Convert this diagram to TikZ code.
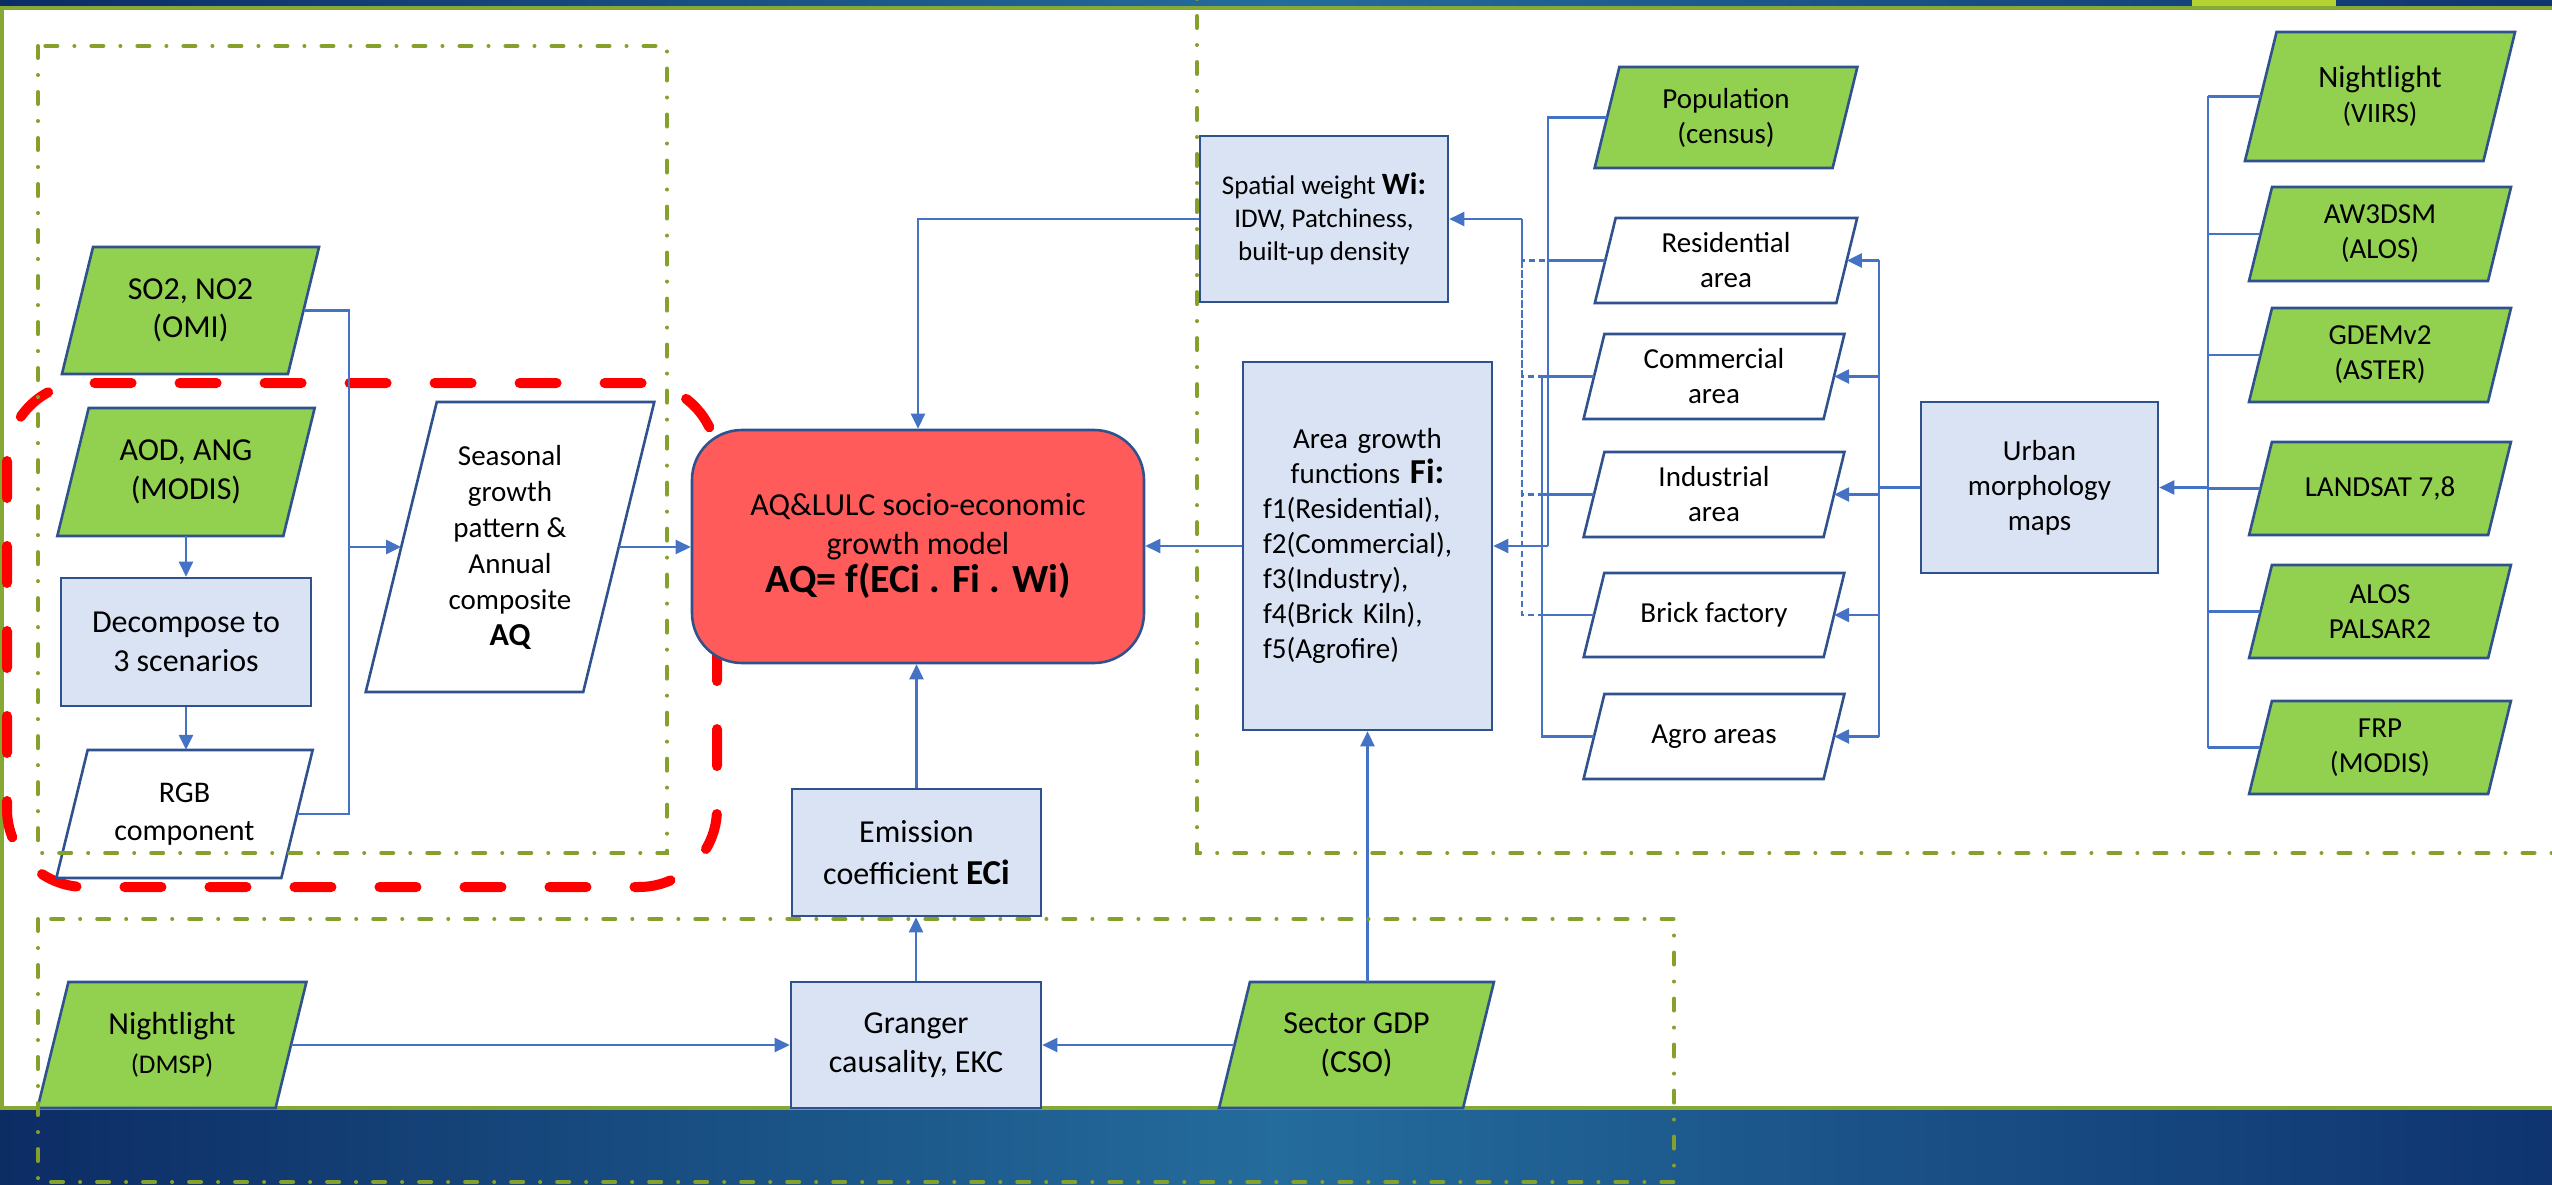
\documentclass[tikz,border=0pt]{standalone}
\usepackage{fontspec}
\setmainfont{Carlito}
\usetikzlibrary{arrows.meta}
\definecolor{bord}{HTML}{2F528F}
\definecolor{lblue}{HTML}{DAE3F3}
\definecolor{gfill}{HTML}{92D050}
\definecolor{cblue}{HTML}{4472C4}
\definecolor{redf}{HTML}{FF5B5B}
\definecolor{ringred}{HTML}{FF0000}
\definecolor{olivec}{HTML}{86A02C}
\definecolor{grnb}{HTML}{86A834}
\definecolor{navyL}{HTML}{0C2C64}
\definecolor{tealM}{HTML}{246C9C}
\definecolor{navyR}{HTML}{0F3470}
\definecolor{limeacc}{HTML}{B4D234}
\newcommand\myfN{\fontsize{29}{35}\selectfont}
\newcommand\myfL{\fontsize{32}{38.5}\selectfont}
\newcommand\myfS{\fontsize{27}{33}\selectfont}
\tikzset{
  txtbase/.style={align=center, inner sep=0pt, text=black},
  pshape/.style={draw=bord, line width=2.6pt, line join=miter},
  ptext/.style={txtbase, draw=none, rectangle},
  bluebox/.style={txtbase, rectangle, draw=bord, line width=2.6pt, fill=lblue},
  rednode/.style={txtbase, rectangle, rounded corners=50pt, draw=bord, line width=2.6pt, fill=redf},
  conn/.style={draw=cblue, line width=2.5pt},
  arr/.style={conn, -{Triangle[length=15pt,width=14pt]}},
  dconn/.style={conn, dash pattern=on 6pt off 4pt},
  olivebox/.style={draw=olivec, line width=4pt, line cap=round, dash pattern=on 12pt off 17pt on 0.01pt off 17pt},
  redring/.style={draw=ringred, line width=10pt, line cap=round, dash pattern=on 37pt off 48pt, rounded corners=78pt},
}
% name, cx, cy, mid width, height, fill, font, text
\newcommand\mypara[8]{%
  \pgfmathsetmacro\paL{#2-#4/2}%
  \pgfmathsetmacro\paR{#2+#4/2}%
  \pgfmathsetmacro\paS{0.1225*#5}%
  \pgfmathsetmacro\paT{#3-#5/2}%
  \pgfmathsetmacro\paB{#3+#5/2}%
  \filldraw[pshape,fill=#6] (\paL+\paS,\paT) -- (\paR+\paS,\paT) -- (\paR-\paS,\paB) -- (\paL-\paS,\paB) -- cycle;
  \node[ptext,font=#7,minimum width=#4pt,minimum height=#5pt] (#1) at (#2,#3) {#8};
}
\begin{document}
\begin{tikzpicture}[x=1pt,y=-1pt]
\path[use as bounding box] (0,0) rectangle (2552,1185);
\clip (0,0) rectangle (2552,1185);
% background
\shade[left color=navyL, right color=navyR, middle color=tealM] (0,0) rectangle (2552,1185);
\filldraw[fill=white, draw=grnb, line width=4pt] (2,8) rectangle (2620,1108);
\fill[limeacc] (2192,0) rectangle (2336,6);
% red dashed ring
\draw[redring] (7,383) rectangle (717,887);

% left group
\mypara{so2}{190.5}{310.5}{226}{127}{gfill}{\myfL}{SO2, NO2\\(OMI)}
\mypara{aod}{186}{472}{226}{128}{gfill}{\myfL}{AOD, ANG\\(MODIS)}
\node[bluebox, font=\myfL, minimum width=250pt, minimum height=128pt] (dec) at (186,642) {Decompose to\\3 scenarios};
\mypara{rgb}{184.5}{814}{225}{128}{white}{\fontsize{30}{38}\selectfont}{RGB\\component}
\mypara{seas}{510}{547}{217.5}{290}{white}{\fontsize{29}{36}\selectfont}{Seasonal\\growth\\pattern \&\\Annual\\composite\\{\bfseries\fontsize{32}{36}\selectfont AQ}}

% central model
\node[rednode, font=\myfL, minimum width=452pt, minimum height=233pt] (red) at (918,546.5) {AQ\&LULC socio-economic\\growth model\\{\bfseries\fontsize{40}{46}\selectfont AQ= f(ECi . Fi . Wi)}};

% right-middle group
\node[bluebox, font=\myfS, minimum width=248pt, minimum height=166pt] (sw) at (1324,219) {Spatial weight {\bfseries\fontsize{31}{33}\selectfont Wi:}\\IDW, Patchiness,\\built-up density};
\node[bluebox, font=\myfN, minimum width=249pt, minimum height=368pt, text width=209pt, align=left] (ag) at (1367.5,546) {\makebox[209pt]{Area growth}\\\makebox[209pt]{functions {\bfseries\fontsize{35}{40}\selectfont Fi:}}\\f1(Residential),\\f2(Commercial),\\f3(Industry),\\f4(Brick Kiln),\\f5(Agrofire)};

\mypara{pop}{1726}{117.5}{238}{101}{gfill}{\myfN}{Population\\(census)}
\mypara{res}{1726}{260.5}{241.5}{85}{white}{\myfN}{Residential\\area}
\mypara{com}{1714}{376.5}{240}{85}{white}{\myfN}{Commercial\\area}
\mypara{ind}{1714}{494.5}{240}{85}{white}{\myfN}{Industrial\\area}
\mypara{brick}{1714}{615}{240}{84}{white}{\myfN}{Brick factory}
\mypara{agro}{1714}{736.5}{240}{85}{white}{\myfN}{Agro areas}

\node[bluebox, font=\myfN, minimum width=237pt, minimum height=171pt] (urb) at (2039.5,487.5) {Urban\\morphology\\maps};

\mypara{viirs}{2380}{96.5}{238.5}{129}{gfill}{\fontsize{31}{35}\selectfont}{Nightlight\\{\fontsize{28}{35}\selectfont (VIIRS)}}
\mypara{aw3d}{2380}{234}{239}{94}{gfill}{\myfN}{AW3DSM\\(ALOS)}
\mypara{gdem}{2380}{355}{239}{94}{gfill}{\myfN}{GDEMv2\\(ASTER)}
\mypara{landsat}{2380}{488.5}{239}{93}{gfill}{\myfN}{LANDSAT 7,8}
\mypara{palsar}{2380}{611.5}{239}{93}{gfill}{\myfN}{ALOS\\PALSAR2}
\mypara{frp}{2380}{747.5}{239}{93}{gfill}{\myfN}{FRP\\(MODIS)}

% bottom group
\node[bluebox, font=\myfL, minimum width=249pt, minimum height=127pt] (em) at (916.5,852.5) {Emission\\[4pt]coefficient {\bfseries\fontsize{35}{40}\selectfont ECi}};
\node[bluebox, font=\myfL, minimum width=250pt, minimum height=126pt] (gr) at (916,1045) {Granger\\causality, EKC};
\mypara{dmsp}{172}{1045}{238}{126}{gfill}{\myfL}{Nightlight\\{\fontsize{27}{33}\selectfont (DMSP)}}
\mypara{gdp}{1356.5}{1045}{244}{126}{gfill}{\myfL}{Sector GDP\\(CSO)}

% connectors: left
\coordinate (j1) at (349,547);
\draw[conn] (so2.east) -| (j1);
\draw[conn] (rgb.east) -| (j1);
\draw[arr] (j1) -- (seas.west);
\draw[arr] (aod.south) -- (dec.north);
\draw[arr] (dec.south) -- (dec.south |- rgb.north);
\draw[arr] (seas.east) -- (seas.east -| red.west);
% into model
\draw[arr] (sw.west) -| (red.north);
\draw[arr] (ag.west) -- (ag.west -| red.east);
\draw[arr] (em.north) -- (em.north |- red.south);
% bottom
\draw[arr] (gr.north) -- (gr.north |- em.south);
\draw[arr] (dmsp.east) -- (dmsp.east -| gr.west);
\draw[arr] (gdp.west) -- (gdp.west -| gr.east);
\draw[arr] (ag.south |- gdp.north) -- (ag.south);
% land use to spatial weight (dashed)
\coordinate (d1) at (1522,219);
\draw[dconn] (res.west) -| (d1);
\draw[dconn] (com.west) -| (d1);
\draw[dconn] (ind.west) -| (d1);
\draw[dconn] (brick.west) -| (d1);
\draw[arr] (d1) -- (sw.east);
% land use to area growth (solid)
\coordinate (b1) at (1548,546);
\coordinate (b2) at (1542,546);
\draw[conn] (pop.west) -| (b1);
\draw[conn] (res.west) -- (res.west -| b1);
\draw[conn] (agro.west) -| (b2);
\draw[conn] (com.west) -| (b2);
\draw[conn] (ind.west) -- (ind.west -| b2);
\draw[conn] (brick.west) -- (brick.west -| b2);
\draw[arr] (b1) -- (ag.east);
% urban morphology to land use
\coordinate (u1) at (1879,487.5);
\draw[conn] (urb.west) -- (u1);
\draw[conn] (res.east -| u1) -- (agro.east -| u1);
\foreach \n in {res,com,ind,brick,agro} \draw[arr] (\n.east -| u1) -- (\n.east);
% sources to urban morphology
\coordinate (s1) at (2208,487.5);
\draw[conn] (viirs.west -| s1) -- (frp.west -| s1);
\foreach \n in {viirs,aw3d,gdem,landsat,palsar,frp} \draw[conn] (\n.west) -- (\n.west -| s1);
\draw[arr] (s1) -- (urb.east);

% olive dash-dot group frames
\draw[olivebox] (38,46) rectangle (667,853);
\draw[olivebox] (1197,-30) -- (1197,853) -- (2620,853);
\draw[olivebox] (38,919) rectangle (1674,1182);
\end{tikzpicture}
\end{document}
